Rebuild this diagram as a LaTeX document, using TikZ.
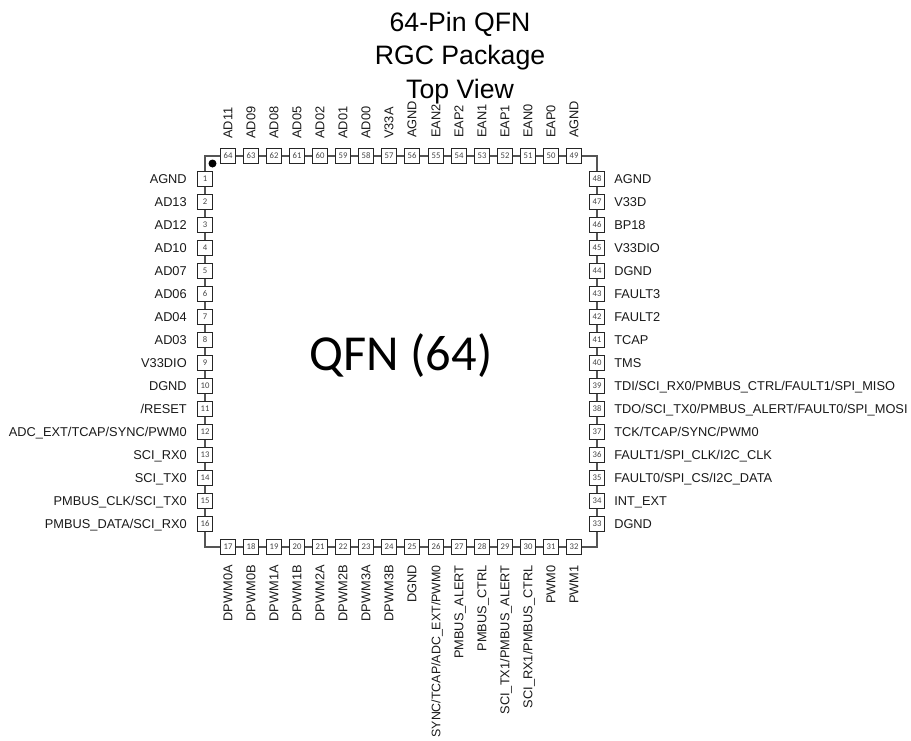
\documentclass[tikz,border=0pt]{standalone}
\usepackage{fontspec}
\setmainfont{Liberation Sans}
\newfontfamily\pinfont{Carlito}
\definecolor{pinline}{RGB}{85,85,85}
\definecolor{pintext}{RGB}{70,70,70}
\tikzset{
	pinbox/.style={draw=black!85, fill=white, line width=0.75pt, minimum size=11.25pt, inner sep=0pt, font=\pinfont\fontsize{6.5}{6.5}\selectfont, text=pintext},
	pinlabel/.style={inner sep=0pt, font=\fontsize{9.6}{11}\selectfont, text=black!90, text height=7pt, text depth=0.5pt},
	labelleft/.style={pinlabel, anchor=east},
	labelright/.style={pinlabel, anchor=west},
	labeltop/.style={pinlabel, rotate=90, anchor=west},
	labelbottom/.style={pinlabel, rotate=90, anchor=east},
	wire/.style={draw=pinline, line width=0.9pt},
}
\begin{document}
\begin{tikzpicture}[x=0.75pt, y=-0.75pt]
	\useasboundingbox (0, 0) rectangle (911, 740);
	\clip (0, 0) rectangle (911, 740);

	% heading and package name
	\node[align=center, font=\fontsize{20}{25.2}\selectfont] (title) at (460, 58) {64-Pin QFN\\RGC Package\\Top View};
	\node[font=\pinfont\fontsize{37.8}{40}\selectfont] (package) at (401, 356) {QFN (64)};

	% corners
	\coordinate (cornerTL) at (205, 156);
	\coordinate (cornerBL) at (205, 547);
	\coordinate (cornerBR) at (597, 547);
	\coordinate (cornerTR) at (597, 156);
	\node[circle, fill=black, minimum size=6pt, inner sep=0pt] (dot) at (212.5, 163.5) {};

	% left side
	\node[pinbox] (p1) at (205, 179) {1};
	\node[pinbox] (p2) at (205, 202) {2};
	\node[pinbox] (p3) at (205, 225) {3};
	\node[pinbox] (p4) at (205, 248) {4};
	\node[pinbox] (p5) at (205, 271) {5};
	\node[pinbox] (p6) at (205, 294) {6};
	\node[pinbox] (p7) at (205, 317) {7};
	\node[pinbox] (p8) at (205, 340) {8};
	\node[pinbox] (p9) at (205, 363) {9};
	\node[pinbox] (p10) at (205, 386) {10};
	\node[pinbox] (p11) at (205, 409) {11};
	\node[pinbox] (p12) at (205, 432) {12};
	\node[pinbox] (p13) at (205, 455) {13};
	\node[pinbox] (p14) at (205, 478) {14};
	\node[pinbox] (p15) at (205, 501) {15};
	\node[pinbox] (p16) at (205, 524) {16};

	\node[labelleft] (n1) at (187, 179) {AGND};
	\node[labelleft] (n2) at (187, 202) {AD13};
	\node[labelleft] (n3) at (187, 225) {AD12};
	\node[labelleft] (n4) at (187, 248) {AD10};
	\node[labelleft] (n5) at (187, 271) {AD07};
	\node[labelleft] (n6) at (187, 294) {AD06};
	\node[labelleft] (n7) at (187, 317) {AD04};
	\node[labelleft] (n8) at (187, 340) {AD03};
	\node[labelleft] (n9) at (187, 363) {V33DIO};
	\node[labelleft] (n10) at (187, 386) {DGND};
	\node[labelleft] (n11) at (187, 409) {/RESET};
	\node[labelleft] (n12) at (187, 432) {ADC\_EXT/TCAP/SYNC/PWM0};
	\node[labelleft] (n13) at (187, 455) {SCI\_RX0};
	\node[labelleft] (n14) at (187, 478) {SCI\_TX0};
	\node[labelleft] (n15) at (187, 501) {PMBUS\_CLK/SCI\_TX0};
	\node[labelleft] (n16) at (187, 524) {PMBUS\_DATA/SCI\_RX0};

	% bottom side
	\node[pinbox] (p17) at (228, 547) {17};
	\node[pinbox] (p18) at (251, 547) {18};
	\node[pinbox] (p19) at (274, 547) {19};
	\node[pinbox] (p20) at (297, 547) {20};
	\node[pinbox] (p21) at (320, 547) {21};
	\node[pinbox] (p22) at (343, 547) {22};
	\node[pinbox] (p23) at (366, 547) {23};
	\node[pinbox] (p24) at (389, 547) {24};
	\node[pinbox] (p25) at (412, 547) {25};
	\node[pinbox] (p26) at (436, 547) {26};
	\node[pinbox] (p27) at (459, 547) {27};
	\node[pinbox] (p28) at (482, 547) {28};
	\node[pinbox] (p29) at (505, 547) {29};
	\node[pinbox] (p30) at (528, 547) {30};
	\node[pinbox] (p31) at (551, 547) {31};
	\node[pinbox] (p32) at (574, 547) {32};

	\node[labelbottom] (n17) at (228, 565) {DPWM0A};
	\node[labelbottom] (n18) at (251, 565) {DPWM0B};
	\node[labelbottom] (n19) at (274, 565) {DPWM1A};
	\node[labelbottom] (n20) at (297, 565) {DPWM1B};
	\node[labelbottom] (n21) at (320, 565) {DPWM2A};
	\node[labelbottom] (n22) at (343, 565) {DPWM2B};
	\node[labelbottom] (n23) at (366, 565) {DPWM3A};
	\node[labelbottom] (n24) at (389, 565) {DPWM3B};
	\node[labelbottom] (n25) at (412, 565) {DGND};
	\node[labelbottom, font=\fontsize{9.3}{11}\selectfont] (n26) at (436, 565) {SYNC/TCAP/ADC\_EXT/PWM0};
	\node[labelbottom] (n27) at (459, 565) {PMBUS\_ALERT};
	\node[labelbottom] (n28) at (482, 565) {PMBUS\_CTRL};
	\node[labelbottom] (n29) at (505, 565) {SCI\_TX1/PMBUS\_ALERT};
	\node[labelbottom] (n30) at (528, 565) {SCI\_RX1/PMBUS\_CTRL};
	\node[labelbottom] (n31) at (551, 565) {PWM0};
	\node[labelbottom] (n32) at (574, 565) {PWM1};

	% right side
	\node[pinbox] (p33) at (597, 524) {33};
	\node[pinbox] (p34) at (597, 501) {34};
	\node[pinbox] (p35) at (597, 478) {35};
	\node[pinbox] (p36) at (597, 455) {36};
	\node[pinbox] (p37) at (597, 432) {37};
	\node[pinbox] (p38) at (597, 409) {38};
	\node[pinbox] (p39) at (597, 386) {39};
	\node[pinbox] (p40) at (597, 363) {40};
	\node[pinbox] (p41) at (597, 340) {41};
	\node[pinbox] (p42) at (597, 317) {42};
	\node[pinbox] (p43) at (597, 294) {43};
	\node[pinbox] (p44) at (597, 271) {44};
	\node[pinbox] (p45) at (597, 248) {45};
	\node[pinbox] (p46) at (597, 225) {46};
	\node[pinbox] (p47) at (597, 202) {47};
	\node[pinbox] (p48) at (597, 179) {48};

	\node[labelright] (n33) at (614, 524) {DGND};
	\node[labelright] (n34) at (614, 501) {INT\_EXT};
	\node[labelright] (n35) at (614, 478) {FAULT0/SPI\_CS/I2C\_DATA};
	\node[labelright] (n36) at (614, 455) {FAULT1/SPI\_CLK/I2C\_CLK};
	\node[labelright] (n37) at (614, 432) {TCK/TCAP/SYNC/PWM0};
	\node[labelright] (n38) at (614, 409) {TDO/SCI\_TX0/PMBUS\_ALERT/FAULT0/SPI\_MOSI};
	\node[labelright] (n39) at (614, 386) {TDI/SCI\_RX0/PMBUS\_CTRL/FAULT1/SPI\_MISO};
	\node[labelright] (n40) at (614, 363) {TMS};
	\node[labelright] (n41) at (614, 340) {TCAP};
	\node[labelright] (n42) at (614, 317) {FAULT2};
	\node[labelright] (n43) at (614, 294) {FAULT3};
	\node[labelright] (n44) at (614, 271) {DGND};
	\node[labelright] (n45) at (614, 248) {V33DIO};
	\node[labelright] (n46) at (614, 225) {BP18};
	\node[labelright] (n47) at (614, 202) {V33D};
	\node[labelright] (n48) at (614, 179) {AGND};

	% top side
	\node[pinbox] (p49) at (574, 156) {49};
	\node[pinbox] (p50) at (551, 156) {50};
	\node[pinbox] (p51) at (528, 156) {51};
	\node[pinbox] (p52) at (505, 156) {52};
	\node[pinbox] (p53) at (482, 156) {53};
	\node[pinbox] (p54) at (459, 156) {54};
	\node[pinbox] (p55) at (436, 156) {55};
	\node[pinbox] (p56) at (412, 156) {56};
	\node[pinbox] (p57) at (389, 156) {57};
	\node[pinbox] (p58) at (366, 156) {58};
	\node[pinbox] (p59) at (343, 156) {59};
	\node[pinbox] (p60) at (320, 156) {60};
	\node[pinbox] (p61) at (297, 156) {61};
	\node[pinbox] (p62) at (274, 156) {62};
	\node[pinbox] (p63) at (251, 156) {63};
	\node[pinbox] (p64) at (228, 156) {64};

	\node[labeltop] (n49) at (574, 138) {AGND};
	\node[labeltop] (n50) at (551, 138) {EAP0};
	\node[labeltop] (n51) at (528, 138) {EAN0};
	\node[labeltop] (n52) at (505, 138) {EAP1};
	\node[labeltop] (n53) at (482, 138) {EAN1};
	\node[labeltop] (n54) at (459, 138) {EAP2};
	\node[labeltop] (n55) at (436, 138) {EAN2};
	\node[labeltop] (n56) at (412, 138) {AGND};
	\node[labeltop] (n57) at (389, 139) {V33A};
	\node[labeltop] (n58) at (366, 139) {AD00};
	\node[labeltop] (n59) at (343, 139) {AD01};
	\node[labeltop] (n60) at (320, 139) {AD02};
	\node[labeltop] (n61) at (297, 139) {AD05};
	\node[labeltop] (n62) at (274, 139) {AD08};
	\node[labeltop] (n63) at (251, 139) {AD09};
	\node[labeltop] (n64) at (228, 139) {AD11};

	% wires between pins
	\draw[wire] (p64) -- (cornerTL) -- (p1);
	\draw[wire] (p1) -- (p2);
	\draw[wire] (p2) -- (p3);
	\draw[wire] (p3) -- (p4);
	\draw[wire] (p4) -- (p5);
	\draw[wire] (p5) -- (p6);
	\draw[wire] (p6) -- (p7);
	\draw[wire] (p7) -- (p8);
	\draw[wire] (p8) -- (p9);
	\draw[wire] (p9) -- (p10);
	\draw[wire] (p10) -- (p11);
	\draw[wire] (p11) -- (p12);
	\draw[wire] (p12) -- (p13);
	\draw[wire] (p13) -- (p14);
	\draw[wire] (p14) -- (p15);
	\draw[wire] (p15) -- (p16);
	\draw[wire] (p16) -- (cornerBL) -- (p17);
	\draw[wire] (p17) -- (p18);
	\draw[wire] (p18) -- (p19);
	\draw[wire] (p19) -- (p20);
	\draw[wire] (p20) -- (p21);
	\draw[wire] (p21) -- (p22);
	\draw[wire] (p22) -- (p23);
	\draw[wire] (p23) -- (p24);
	\draw[wire] (p24) -- (p25);
	\draw[wire] (p25) -- (p26);
	\draw[wire] (p26) -- (p27);
	\draw[wire] (p27) -- (p28);
	\draw[wire] (p28) -- (p29);
	\draw[wire] (p29) -- (p30);
	\draw[wire] (p30) -- (p31);
	\draw[wire] (p31) -- (p32);
	\draw[wire] (p32) -- (cornerBR) -- (p33);
	\draw[wire] (p33) -- (p34);
	\draw[wire] (p34) -- (p35);
	\draw[wire] (p35) -- (p36);
	\draw[wire] (p36) -- (p37);
	\draw[wire] (p37) -- (p38);
	\draw[wire] (p38) -- (p39);
	\draw[wire] (p39) -- (p40);
	\draw[wire] (p40) -- (p41);
	\draw[wire] (p41) -- (p42);
	\draw[wire] (p42) -- (p43);
	\draw[wire] (p43) -- (p44);
	\draw[wire] (p44) -- (p45);
	\draw[wire] (p45) -- (p46);
	\draw[wire] (p46) -- (p47);
	\draw[wire] (p47) -- (p48);
	\draw[wire] (p48) -- (cornerTR) -- (p49);
	\draw[wire] (p49) -- (p50);
	\draw[wire] (p50) -- (p51);
	\draw[wire] (p51) -- (p52);
	\draw[wire] (p52) -- (p53);
	\draw[wire] (p53) -- (p54);
	\draw[wire] (p54) -- (p55);
	\draw[wire] (p55) -- (p56);
	\draw[wire] (p56) -- (p57);
	\draw[wire] (p57) -- (p58);
	\draw[wire] (p58) -- (p59);
	\draw[wire] (p59) -- (p60);
	\draw[wire] (p60) -- (p61);
	\draw[wire] (p61) -- (p62);
	\draw[wire] (p62) -- (p63);
	\draw[wire] (p63) -- (p64);
\end{tikzpicture}
\end{document}
